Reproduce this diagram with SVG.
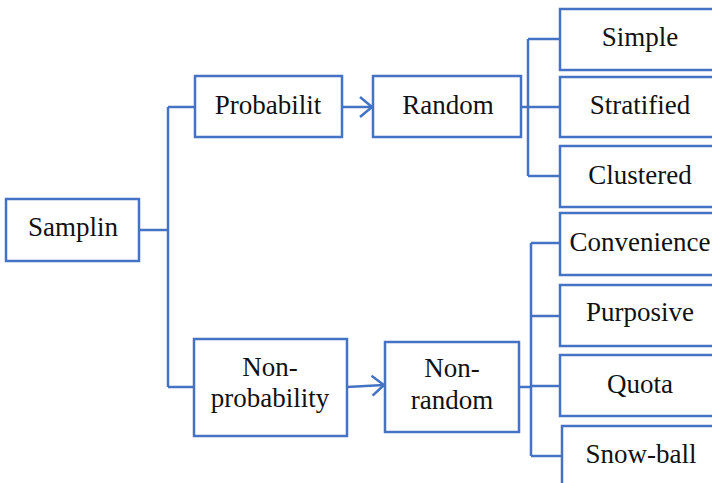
<svg xmlns="http://www.w3.org/2000/svg" width="712" height="483" viewBox="0 0 712 483">
<style>
.box{fill:#fff;stroke:#4472C4;stroke-width:2.5}
.ln{fill:none;stroke:#4472C4;stroke-width:2.5}
text{font-family:"Liberation Serif","DejaVu Serif",serif;font-size:27px;fill:#111;text-anchor:middle}
</style>
<defs>
<marker id="ah" markerUnits="userSpaceOnUse" markerWidth="16" markerHeight="24" refX="13" refY="11" orient="auto">
<path d="M1,1 L13,11 L1,21" fill="none" stroke="#4472C4" stroke-width="2.5"/>
</marker>
</defs>
<g id="connectors">
<path class="ln" d="M139,230 H168 M168,107 V387 M168,107 H195 M168,387 H194"/>
<path class="ln" d="M342,107 H372" marker-end="url(#ah)"/>
<path class="ln" d="M521,107 H528 M528,39 V176 M528,39 H560 M528,107 H560 M528,176 H560"/>
<path class="ln" d="M347,387 L384,385" marker-end="url(#ah)"/>
<path class="ln" d="M519,387 H531 M531,243 V456 M531,243 H560 M531,316 H560 M531,386 H560 M531,456 H562"/>
</g>
<g id="samplin"><rect class="box" x="6" y="199" width="133" height="62"/><text x="73" y="236">Samplin</text></g>
<g id="probabilit"><rect class="box" x="195" y="76" width="147" height="61"/><text x="268" y="114">Probabilit</text></g>
<g id="random"><rect class="box" x="373" y="76" width="148" height="61"/><text x="448" y="114">Random</text></g>
<g id="nonprobability"><rect class="box" x="194" y="339" width="153" height="97"/><text x="270" y="376">Non-</text><text x="270" y="407">probability</text></g>
<g id="nonrandom"><rect class="box" x="385" y="342" width="134" height="90"/><text x="452" y="377">Non-</text><text x="452" y="409">random</text></g>
<g id="simple"><rect class="box" x="560" y="9" width="170" height="61"/><text x="640" y="46">Simple</text></g>
<g id="stratified"><rect class="box" x="560" y="77" width="170" height="60"/><text x="640" y="114">Stratified</text></g>
<g id="clustered"><rect class="box" x="560" y="146" width="170" height="61"/><text x="640" y="184">Clustered</text></g>
<g id="convenience"><rect class="box" x="560" y="213" width="170" height="62"/><text x="640" y="251">Convenience</text></g>
<g id="purposive"><rect class="box" x="560" y="285" width="170" height="61"/><text x="640" y="321">Purposive</text></g>
<g id="quota"><rect class="box" x="560" y="355" width="170" height="61"/><text x="640" y="393">Quota</text></g>
<g id="snowball"><rect class="box" x="562" y="426" width="170" height="70"/><text x="641" y="463">Snow-ball</text></g>
</svg>
